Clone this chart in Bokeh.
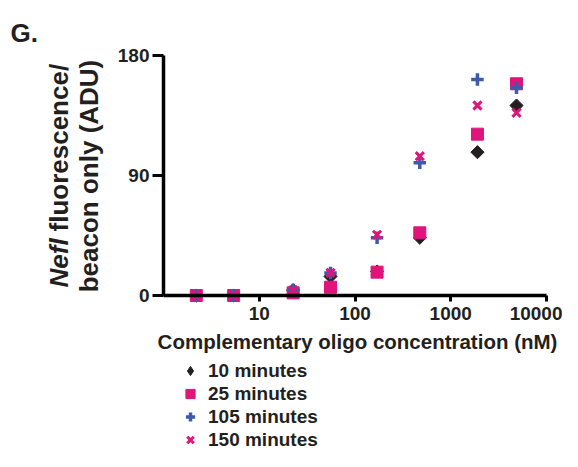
import numpy as np
from bokeh.plotting import figure
from bokeh.models import (Range1d, FixedTicker, NumeralTickFormatter, Label,
                          Legend, LegendItem)
from bokeh.embed import file_html
from bokeh.resources import INLINE

# ---- data ----
concentration_nM = [2.2, 5.4, 22.6, 55.5, 170, 475, 1900, 4860]
min10 = [0, 0, 4, 14.3, 18, 43.3, 107.5, 142.5]
min25 = [0, 0, 2, 6.2, 17.5, 47, 121, 158.8]
min105 = [0, 0, 4.2, 16.8, 43.3, 99.5, 162, 155.8]
min150 = [0, 0, 4, 17, 45.5, 104.5, 142.5, 137]
series_names = ["10 minutes", "25 minutes", "105 minutes", "150 minutes"]
x_ticks = [10, 100, 1000, 10000]
y_ticks = [0, 90, 180]
x_start, x_end = 1, 10000
y_start, y_end = 0, 180

FONT = "Liberation Sans"
TXT = "#231F20"
PINK = "#E0147A"
BLUE = "#3E5BA9"

# ---- pixel layout: the frame fills the canvas, axes sit at fixed places ----
W, H = 562, 451
AX_L, AX_R, AX_T, AX_B = 163, 546, 55, 295
px_per_dec = (AX_R - AX_L) / (np.log10(x_end) - np.log10(x_start))
x_lo = 10 ** (np.log10(x_start) - AX_L / px_per_dec)
x_hi = 10 ** (np.log10(x_end) + (W - AX_R) / px_per_dec)
px_per_unit = (AX_B - AX_T) / (y_end - y_start)
y_lo = y_start - (H - AX_B) / px_per_unit
y_hi = y_end + AX_T / px_per_unit

p = figure(width=W, height=H, x_axis_type="log",
           x_range=Range1d(x_lo, x_hi), y_range=Range1d(y_lo, y_hi),
           output_backend="svg", toolbar_location=None,
           min_border=0, min_border_left=0, min_border_right=0,
           min_border_top=0, min_border_bottom=0)
p.outline_line_color = None
p.grid.visible = False
p.background_fill_color = "white"

# diamond-shaped legend key for the 10-minute series; it lies fully inside the
# rotated squares drawn on top of it, so only the legend shows it
r1_key = p.scatter(concentration_nM, min10, marker="diamond", size=11,
                   fill_color=TXT, line_color=TXT)
r1 = p.scatter(concentration_nM, min10, marker="square", angle=np.pi / 4,
               size=9.3, fill_color=TXT, line_color=TXT)
r2 = p.scatter(concentration_nM, min25, marker="square", size=12,
               fill_color=PINK, line_color=PINK)
r3 = p.scatter(concentration_nM, min105, marker="cross", size=12.5,
               line_color=BLUE, line_width=3.5)
r4 = p.scatter(concentration_nM, min150, marker="x", size=11.5,
               line_color=PINK, line_width=3)

for ax in (p.xaxis[0], p.yaxis[0]):
    ax.axis_line_width = 3.5
    ax.axis_line_color = "black"
    ax.major_tick_line_width = 3
    ax.major_tick_line_color = "black"
    ax.major_tick_in = 0
    ax.minor_tick_line_color = None
    ax.major_label_text_font = FONT
    ax.major_label_text_font_style = "bold"
    ax.major_label_text_font_size = "19px"
    ax.major_label_text_color = TXT

p.xaxis.fixed_location = y_start
p.xaxis.bounds = (x_start, x_end)
p.xaxis.ticker = FixedTicker(ticks=x_ticks)
p.xaxis.formatter = NumeralTickFormatter(format="0")
p.xaxis.major_tick_out = 6
p.xaxis.major_label_standoff = 5

p.yaxis.fixed_location = x_start
p.yaxis.bounds = (y_start, y_end)
p.yaxis.ticker = FixedTicker(ticks=y_ticks)
p.yaxis.major_tick_out = 11
p.yaxis.major_label_standoff = 3

# ---- texts (screen units, measured from the canvas' lower-left corner) ----
def add_label(txt, x, y, style, size, angle=0.0, align="left"):
    p.add_layout(Label(x=x, y=y, x_units="screen", y_units="screen", text=txt,
                       angle=angle, text_font=FONT, text_font_style=style,
                       text_font_size=size, text_color=TXT, text_align=align,
                       text_baseline="middle"))

add_label("G.", 10, H - 32.5, "bold", "26px")
add_label("Nefl", 58, H - 287, "bold italic", "26px", np.pi / 2)
add_label("fluorescence/", 58, H - 287 + 56, "bold", "26px", np.pi / 2)
add_label("beacon only (ADU)", 88, H - 175.5, "bold", "26px", np.pi / 2, "center")
add_label("Complementary oligo concentration (nM)", 357, H - 340.5, "bold", "20.5px",
          0.0, "center")

legend = Legend(items=[LegendItem(label=n, renderers=[r]) for n, r in
                       zip(series_names, [r1_key, r2, r3, r4])],
                location=(177, 0), orientation="vertical",
                glyph_width=26, glyph_height=23, label_height=23,
                label_standoff=5, spacing=0, padding=0, margin=0,
                border_line_color=None, background_fill_alpha=0,
                label_text_font=FONT, label_text_font_style="bold",
                label_text_font_size="19px", label_text_color=TXT)
p.add_layout(legend)

open("out.html", "w").write(file_html(p, INLINE))
